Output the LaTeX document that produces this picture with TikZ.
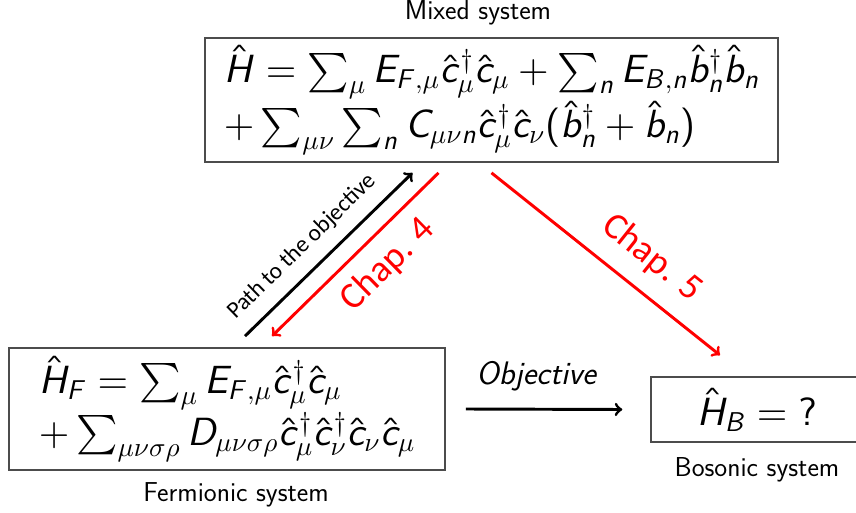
\documentclass[tikz,border=0pt]{standalone}
\usepackage{amsmath}
\usepackage{amssymb}
\usepackage[no-math]{fontspec}
\newfontfamily\calib{Carlito}
\usepackage{tikz}
% sans serif math letters and operators, any size
\DeclareFontFamily{OT1}{mysf}{}
\DeclareFontShape{OT1}{mysf}{m}{n}{<-> cmss10}{}
\DeclareFontShape{OT1}{mysf}{m}{sl}{<-> cmssi10}{}
\DeclareFontFamily{OML}{mymi}{\skewchar\font=127 }
\DeclareFontShape{OML}{mymi}{m}{it}{<-> cmmi10}{}
\DeclareFontFamily{OMS}{mysy}{\skewchar\font=48 }
\DeclareFontShape{OMS}{mysy}{m}{n}{<-> cmsy10}{}
\SetSymbolFont{operators}{normal}{OT1}{mysf}{m}{n}
\SetSymbolFont{letters}{normal}{OML}{mymi}{m}{it}
\SetSymbolFont{symbols}{normal}{OMS}{mysy}{m}{n}
\DeclareSymbolFont{sfletters}{OT1}{mysf}{m}{sl}
\DeclareMathSizes{22.7}{22.7}{15.7}{11.4}
\makeatletter
\count@=`A
\loop
  \mathcode\count@=\numexpr "7000+\symsfletters*256+\count@\relax
  \mathcode\numexpr\count@+32\relax=\numexpr "7000+\symsfletters*256+\count@+32\relax
  \advance\count@ 1
\ifnum\count@<`[ \repeat
\makeatother

\begin{document}
\begin{tikzpicture}[x=0.0203cm, y=-0.0203cm,
    sysbox/.style={draw=black!70, line width=0.9pt, inner sep=0pt, align=left, font=\fontsize{22.7}{30}\selectfont},
    syslabel/.style={font=\sffamily\fontsize{15.8}{18}\selectfont, anchor=base},
    chaparrow/.style={->, red, line width=1.7pt},
    chaplabel/.style={font=\calib\fontsize{21.5}{26}\selectfont, red}]
    \useasboundingbox (0,0) rectangle (856,513);

    % Structural Step 1: the three systems
    \node[sysbox, minimum width=11.63cm, minimum height=2.52cm] (mixed) at (491.5,100) {
        $\hat{H} = \sum_\mu E_{F,\mu}\hat{c}^\dagger_\mu\hat{c}_\mu + \sum_n E_{B,n}\hat{b}^\dagger_n\hat{b}_n$ \\
        $+ \sum_{\mu\nu}\sum_n C_{\mu\nu n}\hat{c}^\dagger_\mu\hat{c}_\nu(\hat{b}^\dagger_n + \hat{b}_n)$
    };
    \node[sysbox, minimum width=8.85cm, minimum height=2.48cm] (ferm) at (227,409) {
        $\hat{H}_F = \sum_\mu E_{F,\mu}\hat{c}^\dagger_\mu\hat{c}_\mu$ \\
        $+ \sum_{\mu\nu\sigma\rho} D_{\mu\nu\sigma\rho}\hat{c}^\dagger_\mu\hat{c}^\dagger_\nu\hat{c}_\nu\hat{c}_\mu$
    };
    \node[sysbox, minimum width=4.30cm, minimum height=1.32cm] (boson) at (757,409.5) {$\hat{H}_B = {?}$};

    % Structural Step 2: names of the systems
    \node[syslabel] (mixedlbl) at (478,20) {Mixed system};
    \node[syslabel] (fermlbl) at (236,501) {Fermionic system};
    \node[syslabel] (bosonlbl) at (757,476) {Bosonic system};

    % Directional Arrows
    \draw[->, line width=1.7pt] ([shift={(18,-11)}]ferm.north) -- ([shift={(-79,10)}]mixed.south)
        node[pos=0.44, above=4pt, sloped, font=\calib\fontsize{13.5}{16}\selectfont] {Path to the objective};
    \draw[chaparrow, <-] ([shift={(45,-11)}]ferm.north) -- ([shift={(-53,10)}]mixed.south)
        node[pos=0.57, below=4pt, sloped, chaplabel] {Chap. 4};
    \draw[chaparrow] ([shift={(0,10)}]mixed.south) -- ([shift={(-37,-21)}]boson.north)
        node[pos=0.61, above=6pt, sloped, chaplabel] {Chap. 5};
    \draw[->, line width=1.7pt] ([shift={(20,0)}]ferm.east) -- ([shift={(-28,0)}]boson.west)
        node[pos=0.45, above=6pt, font=\sffamily\itshape\fontsize{18.8}{22}\selectfont] {Objective};
\end{tikzpicture}
\end{document}
